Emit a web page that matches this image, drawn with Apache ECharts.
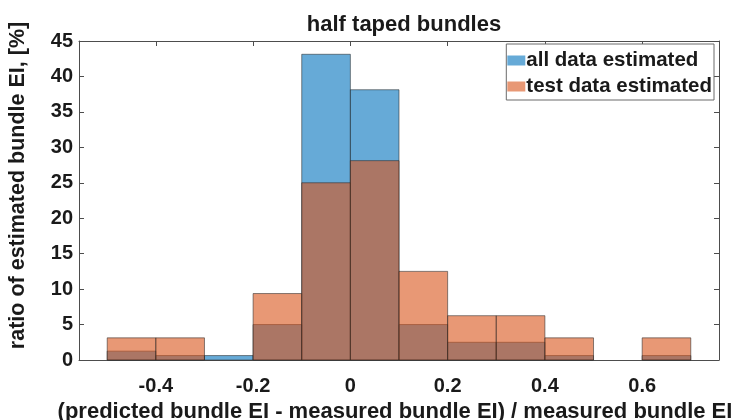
<!DOCTYPE html>
<html>
<head>
<meta charset="utf-8">
<script src="https://cdn.jsdelivr.net/npm/echarts@6/dist/echarts.min.js"></script>
<style>
  html, body { margin: 0; padding: 0; background: #fff; }
  #chart { width: 748px; height: 420px; }
</style>
</head>
<body>
<div id="chart"></div>
<script>
// Histogram bin edges (relative error), width 0.1
const binStarts = [-0.5, -0.4, -0.3, -0.2, -0.1, 0.0, 0.1, 0.2, 0.3, 0.4, 0.5, 0.6];
const binWidth = 0.1;
// Share of bundles per bin, in percent
const allDataPct  = [1.25, 0.625, 0.625, 5, 43.125, 38.125, 5, 2.5, 2.5, 0.625, 0, 0.625];
const testDataPct = [3.125, 3.125, 0, 9.375, 25, 28.125, 12.5, 6.25, 6.25, 3.125, 0, 3.125];
const seriesNames = ['all data estimated', 'test data estimated'];
const xTicks = [-0.4, -0.2, 0, 0.2, 0.4, 0.6];

const FONT = 'Liberation Sans, Arial, Helvetica, sans-serif';
const AXIS = '#4d4d4d';
const INK = '#1a1a1a';

function binData(values) {
  return binStarts
    .map((s, i) => [s, s + binWidth, values[i]])
    .filter(d => d[2] > 0);
}

function renderBin(params, api) {
  const p0 = api.coord([api.value(0), api.value(2)]);
  const p1 = api.coord([api.value(1), 0]);
  return {
    type: 'rect',
    shape: { x: p0[0], y: p0[1], width: p1[0] - p0[0], height: p1[1] - p0[1] },
    style: api.style({ stroke: 'rgba(40,40,40,0.55)', lineWidth: 1 })
  };
}

const chart = echarts.init(document.getElementById('chart'), null, { renderer: 'canvas' });

chart.setOption({
  animation: false,
  backgroundColor: '#ffffff',
  textStyle: { fontFamily: FONT },
  title: {
    text: 'half taped bundles',
    left: 399, textAlign: 'center', top: 9,
    textStyle: { fontFamily: FONT, fontWeight: 'bold', fontSize: 22, color: INK }
  },
  legend: {
    right: 34, top: 44,
    orient: 'vertical',
    backgroundColor: '#fff',
    borderColor: '#6b6b6b', borderWidth: 1,
    padding: [6, 2, 3, 1],
    itemGap: 5,
    itemWidth: 18, itemHeight: 10,
    icon: 'rect',
    textStyle: { fontFamily: FONT, fontWeight: 'bold', fontSize: 20.5, color: INK, padding: [0, 0, 0, -4] },
    data: seriesNames
  },
  grid: { left: 79, right: 29, top: 41, bottom: 60, containLabel: false, outerBoundsMode: 'none' },
  xAxis: [
    {
      type: 'value', min: -0.558, max: 0.758, interval: 0.2,
      position: 'bottom',
      name: '(predicted bundle EI - measured bundle EI) / measured bundle EI',
      nameLocation: 'middle', nameGap: 39,
      nameTextStyle: { fontFamily: FONT, fontWeight: 'bold', fontSize: 22, color: INK, padding: [0, 8, 0, 0] },
      axisLine: { show: true, onZero: false, lineStyle: { color: AXIS, width: 1 } },
      axisTick: { show: false },
      splitLine: { show: false },
      axisLabel: {
        fontFamily: FONT, fontWeight: 'bold', fontSize: 20, color: INK, margin: 16,
        customValues: xTicks,
        formatter: v => (Math.abs(v) < 1e-9 ? '0' : String(Math.round(v * 10) / 10))
      }
    },
    {
      type: 'value', min: -0.558, max: 0.758,
      position: 'top',
      axisLine: { show: true, onZero: false, lineStyle: { color: AXIS, width: 1 } },
      axisTick: { show: true, inside: true, length: 5, customValues: xTicks, lineStyle: { color: AXIS } },
      axisLabel: { show: false },
      splitLine: { show: false }
    }
  ],
  yAxis: [
    {
      type: 'value', min: 0, max: 45, interval: 5,
      position: 'left',
      name: 'ratio of estimated bundle EI, [%]',
      nameLocation: 'middle', nameGap: 50, nameRotate: 90,
      nameTextStyle: { fontFamily: FONT, fontWeight: 'bold', fontSize: 21.5, color: INK, padding: [0, 0, 0, 30] },
      axisLine: { show: true, onZero: false, lineStyle: { color: AXIS, width: 1 } },
      axisTick: { show: true, inside: true, length: 5, lineStyle: { color: AXIS } },
      axisLabel: { fontFamily: FONT, fontWeight: 'bold', fontSize: 20, color: INK, margin: 6 },
      splitLine: { show: false }
    },
    {
      type: 'value', min: 0, max: 45, interval: 5,
      position: 'right',
      axisLine: { show: true, onZero: false, lineStyle: { color: AXIS, width: 1 } },
      axisTick: { show: true, inside: true, length: 5, lineStyle: { color: AXIS } },
      axisLabel: { show: false },
      splitLine: { show: false }
    }
  ],
  series: [
    {
      name: seriesNames[0],
      type: 'custom',
      renderItem: renderBin,
      encode: { x: [0, 1], y: 2 },
      itemStyle: { color: 'rgba(0,114,189,0.6)' },
      data: binData(allDataPct),
      z: 2
    },
    {
      name: seriesNames[1],
      type: 'custom',
      renderItem: renderBin,
      encode: { x: [0, 1], y: 2 },
      itemStyle: { color: 'rgba(217,83,25,0.6)' },
      data: binData(testDataPct),
      z: 3
    }
  ]
});
</script>
</body>
</html>
